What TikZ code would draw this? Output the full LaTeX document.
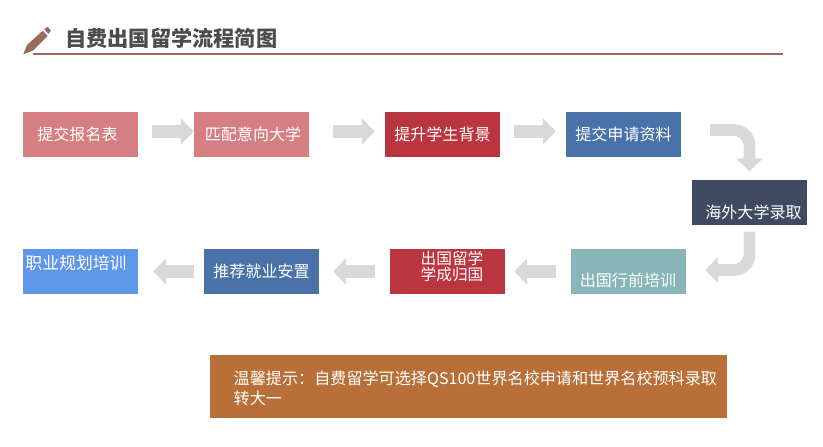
\documentclass[tikz,border=0pt]{standalone}
\usepackage{fontspec}
\setmainfont{Noto Sans CJK SC}
\usetikzlibrary{arrows.meta}
\definecolor{hong}{HTML}{D67F83}
\definecolor{do}{HTML}{B93640}
\definecolor{lam}{HTML}{4872A8}
\definecolor{dam}{HTML}{3F4A60}
\definecolor{ngoc}{HTML}{88B6B8}
\definecolor{troi}{HTML}{5E96E8}
\definecolor{nau}{HTML}{B87038}
\definecolor{but}{HTML}{9C6B5B}
\definecolor{xam}{HTML}{D9D9D9}
\begin{document}
\begin{tikzpicture}[x=0.03cm,y=-0.03cm,font=\fontsize{13.7pt}{14pt}\selectfont]
	\tikzset{buoc/.style={minimum width=3.45cm,minimum height=1.35cm,inner sep=0pt,text=white},
		chu/.style={inner sep=0pt,text=white,align=center},
		muiten/.style={draw=xam,line width=11pt,-{Triangle[length=11pt,width=22pt]}},
		muicong/.style={muiten,line width=10.2pt,rounded corners=0.48cm}}
	\useasboundingbox (0,0) rectangle (823,446);
	
	% Tiêu đề
	\fill[but] (23.3,54.3) -- (27,45) -- (42.7,30.7) -- (47.7,36) -- (33,50.5) -- cycle;
	\fill[but] (44.3,29.3) -- (47.7,26.7) -- (51,30.7) -- (48.3,34) -- cycle;
	\path (65,38) node[anchor=west,inner sep=0pt,text=black!70,font=\fontsize{18.1pt}{20pt}\selectfont\bfseries] (tieude) {自费出国留学流程简图}
	(33,54) coordinate (trai) (783,54) coordinate (phai);
	\draw[but,line width=1.3pt] (trai) -- (phai);
	
	% Hàng trên
	\path (80.5,134.5) node[buoc,fill=hong] (baoming) {}
	(251.5,134.5) node[buoc,fill=hong] (pipei) {}
	(442.5,134.5) node[buoc,fill=do] (tisheng) {提升学生背景}
	(623.5,134.5) node[buoc,fill=lam] (ziliao) {提交申请资料}
	(749.5,202) node[buoc,fill=dam] (luqu) {};
	
	% Hàng dưới
	\path (628.5,271.5) node[buoc,fill=ngoc] (peixun) {}
	(447.5,271.5) node[buoc,fill=do] (guiguo) {}
	(261.5,271.5) node[buoc,fill=lam] (anzhi) {推荐就业安置}
	(80.5,271.5) node[buoc,fill=troi] (guihua) {};
	
	% Chữ lệch tâm
	\path (77.5,134.5) node[chu] (baomingchu) {提交报名表}
	(253,134.5) node[chu] (pipeichu) {匹配意向大学}
	(753.5,212) node[chu] (luquchu) {海外大学录取}
	(628,280) node[chu] (peixunchu) {出国行前培训}
	(452,266.5) node[chu,font=\fontsize{13.4pt}{14pt}\selectfont] (guiguochu) {出国留学\\学成归国}
	(76,263) node[chu,font=\fontsize{14.4pt}{16pt}\selectfont] (guihuachu) {职业规划培训};
	
	% Ghi chú
	\path (468.5,386.5) node[minimum width=15.51cm,minimum height=1.89cm,inner sep=0pt,fill=nau] (tishi) {}
	(233.5,388.5) node[chu,anchor=west,align=left,font=\fontsize{13.75pt}{17pt}\selectfont] (tishichu) {温馨提示：自费留学可选择QS100世界名校申请和世界名校预科录取\\转大一};
	
	% Các mũi tên
	\draw[muiten,shorten <=14*0.85pt] ([yshift=0.09cm]baoming.east) -- ([yshift=0.09cm]pipei.west);
	\draw[muiten,shorten <=24*0.85pt] ([yshift=0.09cm]pipei.east) -- ([xshift=-0.3cm,yshift=0.09cm]tisheng.west);
	\draw[muiten,shorten <=14*0.85pt] ([yshift=0.09cm]tisheng.east) -- ([xshift=-0.3cm,yshift=0.09cm]ziliao.west);
	\draw[muicong] ([shift={(29,-4.5)}]ziliao.east) -| ([yshift=0.24cm]luqu.north);
	\draw[muicong] ([yshift=-0.21cm]luqu.south) |- ([shift={(19,-1.5)}]peixun.east);
	\draw[muiten,shorten <=15*0.85pt] (peixun.west) -- ([xshift=0.27cm]guiguo.east);
	\draw[muiten,shorten <=15*0.85pt] (guiguo.west) -- ([xshift=0.42cm]anzhi.east);
	\draw[muiten,shorten <=10*0.85pt] (anzhi.west) -- ([xshift=0.45cm]guihua.east);
\end{tikzpicture}
\end{document}
